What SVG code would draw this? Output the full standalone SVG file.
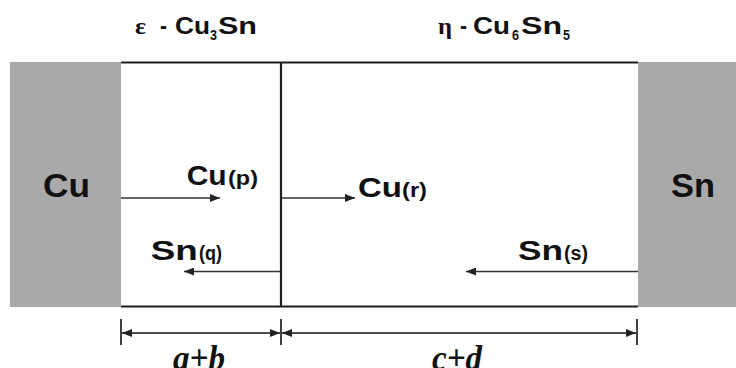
<svg xmlns="http://www.w3.org/2000/svg" width="736" height="368" viewBox="0 0 736 368">
<style>
.lbl{font-family:"Liberation Sans",Arial,sans-serif;font-weight:bold;fill:#111}
.grk{font-family:"Liberation Serif","Times New Roman",serif;font-weight:bold}
.dim{font-family:"Liberation Serif","Times New Roman",serif;font-weight:bold;font-style:italic;fill:#111}
.metal{fill:#a9a9a9}
.edge{stroke:#1e1e1e;stroke-width:2.2;fill:none}
.arr{stroke:#333;stroke-width:1.6;fill:none}
.dl{stroke:#111;stroke-width:1.6;fill:none}
</style>
<defs>
<marker id="ah" markerUnits="userSpaceOnUse" markerWidth="11" markerHeight="8" refX="10" refY="4" orient="auto-start-reverse">
<path d="M0,0 L10,4 L0,8 Z" fill="#222"/>
</marker>
</defs>
<rect width="736" height="368" fill="#fff"/>

<g id="cu">
<rect class="metal" x="10" y="62" width="111" height="245"/>
<text class="lbl" font-size="33" x="43" y="197" textLength="47" lengthAdjust="spacingAndGlyphs">Cu</text>
</g>

<g id="sn">
<rect class="metal" x="638" y="62" width="98" height="245"/>
<text class="lbl" font-size="33" x="671" y="197" textLength="44" lengthAdjust="spacingAndGlyphs">Sn</text>
</g>

<g id="eps">
<line class="edge" x1="121" y1="62.5" x2="281" y2="62.5"/>
<line class="edge" x1="121" y1="306.5" x2="281" y2="306.5"/>
<text class="lbl" font-size="23" y="34"><tspan class="grk" font-size="24" x="135" textLength="11" lengthAdjust="spacingAndGlyphs">ε</tspan><tspan x="160" textLength="7" lengthAdjust="spacingAndGlyphs">-</tspan><tspan x="175" textLength="35" lengthAdjust="spacingAndGlyphs">Cu</tspan><tspan x="210" dy="6" font-size="14" textLength="7" lengthAdjust="spacingAndGlyphs">3</tspan><tspan x="218" dy="-6" textLength="39" lengthAdjust="spacingAndGlyphs">Sn</tspan></text>
</g>

<g id="eta">
<line class="edge" x1="281" y1="62.5" x2="638" y2="62.5"/>
<line class="edge" x1="281" y1="306.5" x2="638" y2="306.5"/>
<text class="lbl" font-size="23" y="34"><tspan class="grk" font-size="24" x="438" textLength="14" lengthAdjust="spacingAndGlyphs">η</tspan><tspan x="460" textLength="7" lengthAdjust="spacingAndGlyphs">-</tspan><tspan x="473" textLength="37" lengthAdjust="spacingAndGlyphs">Cu</tspan><tspan x="512" dy="6" font-size="14" textLength="7" lengthAdjust="spacingAndGlyphs">6</tspan><tspan x="521" dy="-6" textLength="41" lengthAdjust="spacingAndGlyphs">Sn</tspan><tspan x="563" dy="6" font-size="14" textLength="7" lengthAdjust="spacingAndGlyphs">5</tspan></text>
</g>

<g id="interface">
<line class="edge" x1="281" y1="62" x2="281" y2="307"/>
</g>

<g id="connectors">
<line class="arr" x1="121" y1="198" x2="220" y2="198" marker-end="url(#ah)"/>
<line class="arr" x1="282" y1="198" x2="355" y2="198" marker-end="url(#ah)"/>
<line class="arr" x1="280" y1="271.5" x2="184" y2="271.5" marker-end="url(#ah)"/>
<line class="arr" x1="638" y1="271.5" x2="466" y2="271.5" marker-end="url(#ah)"/>
</g>

<g id="labels">
<text class="lbl" font-size="28" y="185"><tspan x="186.7" textLength="40" lengthAdjust="spacingAndGlyphs">Cu</tspan><tspan x="228" font-size="20" textLength="30" lengthAdjust="spacingAndGlyphs">(p)</tspan></text>
<text class="lbl" font-size="28" y="197"><tspan x="358" textLength="44" lengthAdjust="spacingAndGlyphs">Cu</tspan><tspan x="402" font-size="20" textLength="25" lengthAdjust="spacingAndGlyphs">(r)</tspan></text>
<text class="lbl" font-size="28" y="260"><tspan x="150.7" textLength="47" lengthAdjust="spacingAndGlyphs">Sn</tspan><tspan x="199" font-size="20" textLength="23" lengthAdjust="spacingAndGlyphs">(q)</tspan></text>
<text class="lbl" font-size="28" y="260"><tspan x="518" textLength="45" lengthAdjust="spacingAndGlyphs">Sn</tspan><tspan x="564" font-size="20" textLength="24" lengthAdjust="spacingAndGlyphs">(s)</tspan></text>
</g>

<g id="dimensions">
<line class="dl" x1="121" y1="319" x2="121" y2="345"/>
<line class="dl" x1="281" y1="319" x2="281" y2="345"/>
<line class="dl" x1="637" y1="319" x2="637" y2="345"/>
<line class="dl" x1="122" y1="333" x2="280" y2="333" marker-start="url(#ah)" marker-end="url(#ah)"/>
<line class="dl" x1="282" y1="333" x2="636" y2="333" marker-start="url(#ah)" marker-end="url(#ah)"/>
<text class="dim" font-size="36" x="173" y="370" textLength="52" lengthAdjust="spacingAndGlyphs">a+b</text>
<text class="dim" font-size="36" x="432" y="370" textLength="50" lengthAdjust="spacingAndGlyphs">c+d</text>
</g>
</svg>
